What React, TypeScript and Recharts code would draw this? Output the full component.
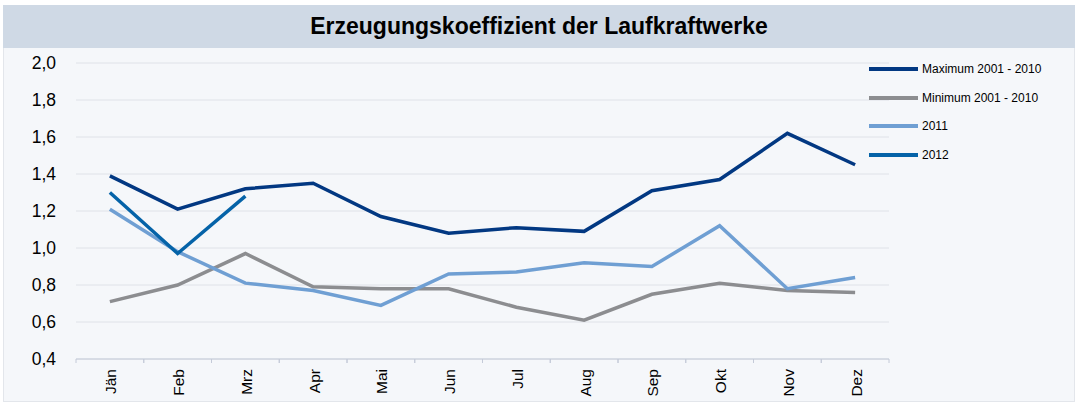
import React from 'react';
import { LineChart, Line, XAxis, YAxis, CartesianGrid } from 'recharts';

const months = ['Jän', 'Feb', 'Mrz', 'Apr', 'Mai', 'Jun', 'Jul', 'Aug', 'Sep', 'Okt', 'Nov', 'Dez'];
const maximum = [1.39, 1.21, 1.32, 1.35, 1.17, 1.08, 1.11, 1.09, 1.31, 1.37, 1.62, 1.45];
const minimum = [0.71, 0.8, 0.97, 0.79, 0.78, 0.78, 0.68, 0.61, 0.75, 0.81, 0.77, 0.76];
const y2011 = [1.21, 0.98, 0.81, 0.77, 0.69, 0.86, 0.87, 0.92, 0.9, 1.12, 0.78, 0.84];
const y2012 = [1.3, 0.97, 1.28];
const yTicks = [0.4, 0.6, 0.8, 1.0, 1.2, 1.4, 1.6, 1.8, 2.0];

const series = [
  { key: 'max', name: 'Maximum 2001 - 2010', color: '#023882' },
  { key: 'min', name: 'Minimum 2001 - 2010', color: '#8c8d90' },
  { key: 'y2011', name: '2011', color: '#6f9fd3' },
  { key: 'y2012', name: '2012', color: '#0563a8' },
];

const data = months.map((m, i) => ({
  month: m,
  max: maximum[i],
  min: minimum[i],
  y2011: y2011[i],
  y2012: i < y2012.length ? y2012[i] : null,
}));

const FONT = '"Liberation Sans", Arial, sans-serif';
const CHART_W = 1077;
const CHART_H = 406;
const MARGIN = { top: 63, right: 188, bottom: 0, left: 0 };
const Y_W = 76;
const BAND = (CHART_W - MARGIN.right - Y_W) / months.length;

function MonthTick(props: any) {
  const { x, y, payload } = props;
  const half = BAND / 2;
  return (
    <g>
      <line x1={x - half} x2={x - half} y1={y - 8} y2={y - 4} stroke="#c4cad8" />
      <line x1={x + half} x2={x + half} y1={y - 8} y2={y - 4} stroke="#c4cad8" />
      <g transform={`translate(${x + 1},${y + 2}) rotate(-90)`}>
        <text textAnchor="end" dy="0.35em" fontSize={15.5} fill="#000" fontFamily={FONT}>
          {payload.value}
        </text>
      </g>
    </g>
  );
}

function LegendBox() {
  return (
    <div style={{ position: 'absolute', left: 869, top: 55, fontFamily: FONT, fontSize: 12, color: '#000' }}>
      {series.map((s) => (
        <div key={s.key} style={{ display: 'flex', alignItems: 'center', height: 28.5 }}>
          <div style={{ width: 49, height: 4, background: s.color, marginRight: 4 }} />
          <span>{s.name}</span>
        </div>
      ))}
    </div>
  );
}

export default function App() {
  return (
    <div style={{ position: 'absolute', left: 0, top: 0, width: CHART_W, height: CHART_H, background: '#fff' }}>
      <div
        style={{
          position: 'absolute', left: 3, top: 5, width: 1072, height: 397,
          background: '#f5f7fa', border: '1px solid #e3e6eb', boxSizing: 'border-box',
        }}
      />
      <div
        style={{
          position: 'absolute', left: 3, top: 5, width: 1072, height: 43, background: '#cfd9e5',
          display: 'flex', alignItems: 'center', justifyContent: 'center',
          fontFamily: FONT, fontWeight: 'bold', fontSize: 23, color: '#000',
        }}
      >
        Erzeugungskoeffizient der Laufkraftwerke
      </div>
      <div style={{ position: 'absolute', left: 0, top: 0 }}>
        <LineChart width={CHART_W} height={CHART_H} data={data} margin={MARGIN}>
          <CartesianGrid vertical={false} stroke="#dfe2e8" />
          <XAxis
            dataKey="month"
            height={47}
            interval={0}
            padding={{ left: BAND / 2, right: BAND / 2 }}
            tickLine={false}
            axisLine={{ stroke: '#c4cad8' }}
            tick={<MonthTick />}
          />
          <YAxis
            width={Y_W}
            domain={[0.4, 2.0]}
            ticks={yTicks}
            axisLine={false}
            tickLine={false}
            tickMargin={14}
            tick={{ fontSize: 17.5, fill: '#000', fontFamily: FONT }}
            tickFormatter={(v: number) => v.toFixed(1).replace('.', ',')}
          />
          {series.map((s) => (
            <Line
              key={s.key}
              dataKey={s.key}
              name={s.name}
              stroke={s.color}
              strokeWidth={3.5}
              dot={false}
              type="linear"
              isAnimationActive={false}
            />
          ))}
        </LineChart>
      </div>
      <LegendBox />
    </div>
  );
}
